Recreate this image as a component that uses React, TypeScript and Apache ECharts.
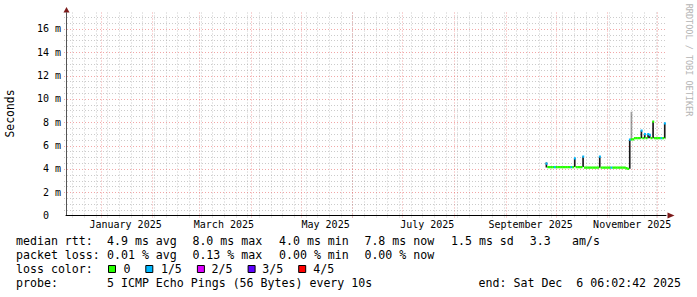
import React, { useEffect, useRef } from 'react';
import * as echarts from 'echarts';

const DAY_MS = 86400000;
const xStart = Date.UTC(2024, 11, 11, 6, 2, 42);
const xEnd = Date.UTC(2025, 11, 6, 6, 2, 42);
const yMaxMs = 17.4;

// daily values, Sep 25 .. Dec 6 2025
const firstDataDay = '2025-09-25';
const medianMs = [
  // Sep 25-30
  4.45, 4.15, 4.15, 4.15, 4.15, 4.15,
  // Oct 1-31
  4.15, 4.15, 4.15, 4.15, 4.15, 4.15, 4.15, 4.15, 4.15, 4.15, 4.15, 4.9, 4.15, 4.15, 4.15, 4.15, 5.05,
  4.1, 4.1, 4.1, 4.1, 4.1, 4.1, 4.1, 4.1, 4.1, 5.05, 4.1, 4.1, 4.1, 4.1,
  // Nov 1-30
  4.1, 4.1, 4.1, 4.1, 4.1, 4.1, 4.1, 4.1, 4.1, 4.1, 4.1, 4.05, 4.0, 6.5, 6.52, 6.52,
  6.63, 6.63, 6.63, 6.63, 7.28, 6.63, 6.97, 6.63, 6.97, 6.9, 6.63, 8.05, 6.63, 6.63,
  // Dec 1-6
  6.63, 6.63, 6.63, 6.63, 7.9, 6.63,
];
const lossFifths = [
  1, 0, 0, 0, 0, 1,
  0, 0, 0, 0, 0, 0, 0, 0, 0, 1, 0, 1, 0, 0, 0, 0, 1,
  0, 0, 0, 0, 0, 0, 0, 0, 0, 1, 0, 0, 0, 0,
  0, 0, 1, 0, 0, 0, 0, 0, 0, 0, 0, 0, 0, 1, 0, 0,
  0, 0, 0, 0, 1, 0, 1, 0, 1, 1, 0, 0, 0, 0,
  0, 0, 1, 0, 1, 0,
];

const smokeDates = ['2025-09-25', '2025-10-12', '2025-10-17', '2025-10-27', '2025-11-14', '2025-11-15', '2025-11-21', '2025-11-23', '2025-11-25', '2025-11-26', '2025-11-28', '2025-12-05'];
const smokeLowMs = [4.12, 4.15, 4.15, 4.1, 4.0, 6.52, 6.63, 6.63, 6.63, 6.63, 6.63, 6.63];
const smokeHighMs = [4.55, 4.9, 5.05, 5.05, 6.5, 8.9, 7.28, 6.97, 6.97, 6.9, 8.05, 7.9];
const smokeDensity = [0.9, 0.9, 0.9, 0.9, 0.9, 0.38, 0.9, 0.9, 0.9, 0.9, 0.9, 0.9];

const monthLabelDates = ['2025-01-16', '2025-03-16', '2025-05-16', '2025-07-16', '2025-09-16', '2025-11-16'];
const monthLabels = ['January 2025', 'March 2025', 'May 2025', 'July 2025', 'September 2025', 'November 2025'];

const lossColors = ['#26ff00', '#00b8ff', '#dd00ff', '#5e00ff', '#ff0000'];
const lossLabels = ['0', '1/5', '2/5', '3/5', '4/5'];

const MONO = '"DejaVu Sans Mono", "Liberation Mono", monospace';
const GRID_LEFT = 66;
const GRID_RIGHT = 31;
const GRID_TOP = 12.5;
const GRID_BOTTOM = 81.5;
const MINOR_GRID = 'rgba(140,140,140,0.45)';
const MAJOR_GRID = 'rgba(230,80,80,0.5)';

export default function App() {
  const ref = useRef<HTMLDivElement>(null);
  useEffect(() => {
    document.body.style.margin = '0';
    const chart = echarts.init(ref.current!, null, { renderer: 'svg' });

    const day0 = Date.parse(firstDataDay);
    const medianData = medianMs.map((v, i) => [day0 + i * DAY_MS, v, lossFifths[i]]);
    const smokeData = smokeDates.map((d, i) => [Date.parse(d), smokeLowMs[i], smokeHighMs[i], smokeDensity[i]]);

    // grid line positions (weekly on Sundays, monthly on the 1st)
    const vGrid: number[][] = [];
    for (let t = Date.UTC(2024, 11, 15); t < xEnd; t += 7 * DAY_MS) vGrid.push([t, 0]);
    for (let m = 0; m < 12; m++) vGrid.push([Date.UTC(2025, m, 1), 1]);
    const hGrid: number[][] = [];
    for (let v = 0.5; v <= yMaxMs; v += 0.5) hGrid.push([xStart, v, v % 2 === 0 ? 1 : 0]);

    const labelTimes = monthLabelDates.map((d) => Date.parse(d));

    const legendRows: [number, [number, string][]][] = [
      [241, [[16, 'median rtt:'], [107, '4.9 ms avg'], [192.4, '8.0 ms max'], [279, '4.0 ms min'], [364.4, '7.8 ms now'], [451, '1.5 ms sd'], [529.8, '3.3'], [572, 'am/s']]],
      [255, [[16, 'packet loss:'], [107, '0.01 % avg'], [192.4, '0.13 % max'], [279, '0.00 % min'], [364.4, '0.00 % now']]],
      [269, [[16, 'loss color:']]],
      [283, [[16, 'probe:'], [107, '5 ICMP Echo Pings (56 Bytes) every 10s']]],
    ];
    const textStyle = (text: string, align = 'left') => ({
      text, fontSize: 11.6, fontFamily: MONO, fill: '#000', textAlign: align, textVerticalAlign: 'middle',
    });
    const graphics: any[] = [];
    legendRows.forEach(([y, items]) => {
      items.forEach(([x, t]) => graphics.push({ type: 'text', x, y, style: textStyle(t) }));
    });
    graphics.push({ type: 'text', x: 681, y: 283, style: textStyle('end: Sat Dec  6 06:02:42 2025', 'right') });
    const boxX = [108, 145.3, 196.9, 247.6, 298.2];
    const boxLabelX = [123.6, 160.9, 211.6, 262.2, 313.3];
    lossColors.forEach((c, i) => {
      graphics.push({ type: 'rect', shape: { x: boxX[i] + 0.5, y: 265.5, width: 7, height: 7 }, style: { fill: c, stroke: '#000', lineWidth: 1 } });
      graphics.push({ type: 'text', x: boxLabelX[i], y: 269, style: textStyle(lossLabels[i]) });
    });
    graphics.push({ type: 'text', x: 10, y: 113.5, rotation: Math.PI / 2, style: { text: 'Seconds', fontSize: 11.4, fontFamily: MONO, fill: '#000', textAlign: 'center', textVerticalAlign: 'middle' } });
    graphics.push({ type: 'text', x: 689, y: 60, rotation: -Math.PI / 2, style: { text: 'RRDTOOL / TOBI OETIKER', fontSize: 8.5, fontFamily: MONO, fill: '#b4b4b4', textAlign: 'center', textVerticalAlign: 'middle' } });
    const axisY = 215.5;
    graphics.push({ type: 'polygon', shape: { points: [[66.5, 7], [63.5, 12.5], [69.5, 12.5]] }, style: { fill: '#7c1a1a' } });
    graphics.push({ type: 'polygon', shape: { points: [[674.5, axisY], [667.5, axisY - 3], [667.5, axisY + 3]] }, style: { fill: '#7c1a1a' } });

    const option: any = {
      animation: false,
      backgroundColor: '#ffffff',
      grid: { left: GRID_LEFT, right: GRID_RIGHT, top: GRID_TOP, bottom: GRID_BOTTOM },
      xAxis: {
        type: 'value', min: xStart, max: xEnd,
        axisLine: { show: true, lineStyle: { color: '#000', width: 1 } },
        axisTick: { show: false },
        splitLine: { show: false },
        axisLabel: {
          customValues: labelTimes,
          margin: 4,
          fontSize: 10, fontFamily: MONO, color: '#000',
          formatter: (v: number) => {
            let best = -1, bd = Infinity;
            labelTimes.forEach((t, i) => { const d = Math.abs(t - v); if (d < bd) { bd = d; best = i; } });
            return bd < DAY_MS ? monthLabels[best] : '';
          },
        },
      },
      yAxis: {
        type: 'value', min: 0, max: yMaxMs, interval: 2,
        axisLine: { show: true, lineStyle: { color: '#555', width: 1 } },
        axisTick: { show: false },
        splitLine: { show: false },
        axisLabel: {
          margin: 5, fontSize: 10, fontFamily: MONO, color: '#000',
          formatter: (v: number) => (v === 0 ? '{z|0}' : Math.abs(v % 2) < 1e-9 ? `${v} m` : ''),
          rich: { z: { fontSize: 10, fontFamily: MONO, color: '#000', padding: [0, 12, 0, 0] } },
        },
      },
      series: [
        {
          type: 'custom', name: 'vgrid', silent: true, z: 1, clip: false,
          data: vGrid,
          renderItem: (params: any, api: any) => {
            const p = api.coord([api.value(0), 0]);
            const cs = params.coordSys;
            const x = Math.round(p[0]) + 0.5;
            if (x < cs.x + 1 || x > cs.x + cs.width) return null;
            return {
              type: 'line', silent: true,
              shape: { x1: x, y1: cs.y, x2: x, y2: cs.y + cs.height + 2.5 },
              style: { stroke: api.value(1) ? MAJOR_GRID : MINOR_GRID, lineWidth: 1, lineDash: [1, 2] },
            };
          },
        },
        {
          type: 'custom', name: 'hgrid', silent: true, z: 1, clip: false,
          data: hGrid,
          renderItem: (params: any, api: any) => {
            const p = api.coord([api.value(0), api.value(1)]);
            const cs = params.coordSys;
            const y = Math.round(p[1]) + 0.5;
            return {
              type: 'line', silent: true,
              shape: { x1: cs.x - 2, y1: y, x2: cs.x + cs.width, y2: y },
              style: { stroke: api.value(2) ? MAJOR_GRID : MINOR_GRID, lineWidth: 1, lineDash: [1, 2] },
            };
          },
        },
        {
          type: 'custom', name: 'smoke', silent: true, z: 3, clip: true,
          data: smokeData,
          renderItem: (params: any, api: any) => {
            const t = api.value(0);
            const a = api.coord([t, api.value(2)]);
            const b = api.coord([t + DAY_MS, api.value(1)]);
            return {
              type: 'rect',
              shape: { x: a[0], y: a[1], width: Math.max(1.2, b[0] - a[0]), height: b[1] - a[1] },
              style: { fill: `rgba(0,0,0,${api.value(3)})` },
            };
          },
        },
        {
          type: 'custom', name: 'median rtt', silent: true, z: 4, clip: true,
          data: medianData,
          renderItem: (params: any, api: any) => {
            const t = api.value(0);
            const a = api.coord([t, api.value(1)]);
            const b = api.coord([t + DAY_MS, api.value(1)]);
            return {
              type: 'rect',
              shape: { x: a[0], y: a[1] - 1.15, width: b[0] - a[0] + 0.3, height: 2.3 },
              style: { fill: lossColors[api.value(2)] },
            };
          },
        },
      ],
      graphic: graphics,
    };
    chart.setOption(option);
    return () => chart.dispose();
  }, []);
  return <div ref={ref} style={{ width: 697, height: 297 }} />;
}
